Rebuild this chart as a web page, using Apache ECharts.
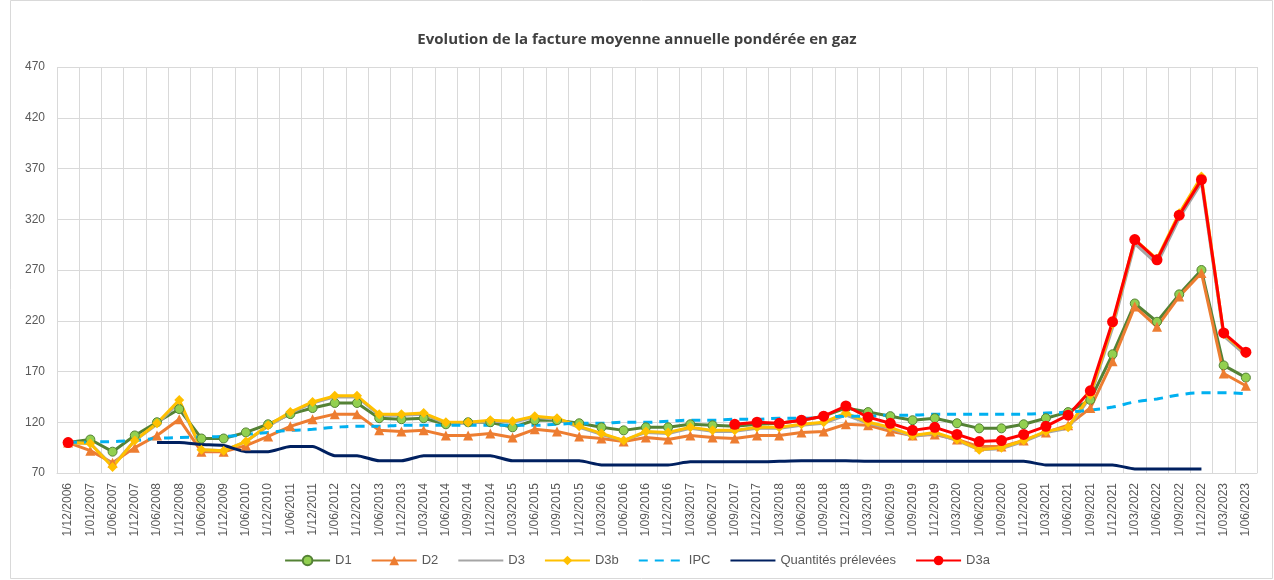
<!DOCTYPE html>
<html style="height: 100%">
<head>
<meta charset="utf-8">
</head>
<body style="height: 100%; margin: 0; background: #fff">
<div id="container" style="width: 1274px; height: 580px"></div>
<script type="text/javascript" src="https://cdn.jsdelivr.net/npm/echarts@6/dist/echarts.min.js"></script>
<script type="text/javascript">
// dates (x axis)
var dates = ['1/12/2006', '1/01/2007', '1/06/2007', '1/12/2007', '1/06/2008', '1/12/2008', '1/06/2009', '1/12/2009',
    '1/06/2010', '1/12/2010', '1/06/2011', '1/12/2011', '1/06/2012', '1/12/2012', '1/06/2013', '1/12/2013',
    '1/03/2014', '1/06/2014', '1/09/2014', '1/12/2014', '1/03/2015', '1/06/2015', '1/09/2015', '1/12/2015',
    '1/03/2016', '1/06/2016', '1/09/2016', '1/12/2016', '1/03/2017', '1/06/2017', '1/09/2017', '1/12/2017',
    '1/03/2018', '1/06/2018', '1/09/2018', '1/12/2018', '1/03/2019', '1/06/2019', '1/09/2019', '1/12/2019',
    '1/03/2020', '1/06/2020', '1/09/2020', '1/12/2020', '1/03/2021', '1/06/2021', '1/09/2021', '1/12/2021',
    '1/03/2022', '1/06/2022', '1/09/2022', '1/12/2022', '1/03/2023', '1/06/2023'];

var d1 = [100, 103, 91, 107, 120, 133, 104, 104, 110, 118, 128, 134, 139, 139, 124, 123,
    124, 118, 120, 120, 115, 122, 122, 119, 115, 112, 115, 115, 118, 117, 116, 118,
    119, 122, 126, 134, 130, 126, 122, 124, 119, 114, 114, 118, 124, 130, 142, 187,
    237, 219, 246, 270, 176, 164];

var d2 = [100, 92, 80, 95, 107, 123, 91, 91, 97, 106, 116, 123, 128, 128, 112, 111,
    112, 107, 107, 109, 105, 113, 111, 106, 104, 101, 105, 103, 107, 105, 104, 107,
    107, 110, 111, 118, 117, 111, 107, 108, 103, 96, 96, 102, 110, 117, 134, 180,
    234, 214, 244, 267, 168, 156];

var d3 = [100, 99, 77, 102, 118, 140, 93, 92, 101, 116, 129, 139, 145, 145, 127, 127,
    128, 119, 119, 121, 120, 125, 123, 115, 108, 102, 110, 109, 114, 111, 111, 114,
    114, 117, 119, 127, 119, 114, 106, 109, 102, 93, 94, 101, 110, 114, 145, 213,
    296, 276, 321, 356, 205, 186];

var d3b = [100, 99, 76, 102, 119, 142, 93, 92, 101, 117, 130, 140, 146, 146, 128, 128,
    129, 120, 120, 122, 121, 126, 124, 116, 109, 102, 111, 110, 115, 112, 112, 115,
    115, 118, 120, 129, 120, 115, 107, 110, 103, 93, 95, 102, 111, 115, 147, 217,
    300, 281, 326, 362, 207, 188];

var ipc = [100, 100.5, 101, 102, 104, 105, 105.5, 106, 108, 110, 112, 113, 115, 116, 116, 117,
    117, 117, 117, 117, 117, 117, 118, 119, 119, 120, 120, 121, 122, 122, 123, 123,
    124, 124, 125, 126, 126, 127, 127, 128, 128, 128, 128, 128, 129, 130, 132, 135,
    140, 143, 147, 149, 149, 148];

var quantites = [null, null, null, null, 100, 100, 98, 97, 91, 91, 96, 96, 87, 87, 82, 82,
    87, 87, 87, 87, 82, 82, 82, 82, 78, 78, 78, 78, 81, 81, 81, 81,
    81.5, 82, 82, 82, 81.5, 81.5, 81.5, 81.5, 81.5, 81.5, 81.5, 81.5, 78, 78, 78, 78,
    74, 74, 74, 74, null, null];

var d3a = [100, null, null, null, null, null, null, null, null, null, null, null, null, null, null, null,
    null, null, null, null, null, null, null, null, null, null, null, null, null, null, 118, 120,
    119, 122, 126, 136, 125, 119, 112, 115, 108, 101, 102, 108, 116, 127, 151, 219,
    300, 280, 324, 359, 208, 189];

var dom = document.getElementById('container');
var myChart = echarts.init(dom);

var noMarker = {opacity: 0};

var option = {
    animation: false,
    backgroundColor: '#fff',
    title: {
        text: 'Evolution de la facture moyenne annuelle pondérée en gaz',
        left: 'center',
        top: 27,
        textStyle: {fontFamily: 'Open Sans', fontSize: 15, fontWeight: 'bold', color: '#404040'}
    },
    graphic: [{
        type: 'rect',
        shape: {x: 10.5, y: 0.5, width: 1262, height: 578},
        style: {fill: 'none', stroke: '#d9d9d9', lineWidth: 1},
        silent: true
    }],
    legend: {
        bottom: 8,
        left: 'center',
        itemWidth: 45,
        itemHeight: 12,
        itemGap: 19,
        textStyle: {fontFamily: 'Liberation Sans', fontSize: 13, color: '#595959'},
        data: [
            {name: 'D1'},
            {name: 'D2'},
            {name: 'D3', itemStyle: noMarker},
            {name: 'D3b'},
            {name: 'IPC', itemStyle: noMarker},
            {name: 'Quantités prélevées', itemStyle: noMarker},
            {name: 'D3a'}
        ]
    },
    grid: {left: 57, right: 17, top: 67, bottom: 107},
    xAxis: {
        type: 'category',
        data: dates,
        boundaryGap: true,
        axisLine: {lineStyle: {color: '#d9d9d9'}},
        axisTick: {show: false},
        splitLine: {show: true, interval: 0, lineStyle: {color: '#d9d9d9', width: 1}},
        axisLabel: {
            rotate: 90,
            interval: 0,
            margin: 10,
            fontFamily: 'Liberation Sans',
            fontSize: 12,
            color: '#595959'
        }
    },
    yAxis: {
        type: 'value',
        min: 70,
        max: 470,
        interval: 50,
        axisLine: {show: false},
        axisTick: {show: false},
        splitLine: {lineStyle: {color: '#d9d9d9', width: 1}},
        axisLabel: {margin: 12, fontFamily: 'Liberation Sans', fontSize: 12, color: '#595959'}
    },
    series: [
        {
            name: 'D1', type: 'line', data: d1,
            symbol: 'circle', symbolSize: 9,
            lineStyle: {color: '#548235', width: 3},
            itemStyle: {color: '#92d050', borderColor: '#548235', borderWidth: 1},
            color: '#548235'
        },
        {
            name: 'D2', type: 'line', data: d2,
            symbol: 'triangle', symbolSize: 10,
            lineStyle: {color: '#ed7d31', width: 3},
            itemStyle: {color: '#ed7d31'},
            color: '#ed7d31'
        },
        {
            name: 'D3', type: 'line', data: d3,
            symbol: 'none',
            lineStyle: {color: '#a5a5a5', width: 3},
            itemStyle: {color: '#a5a5a5'},
            color: '#a5a5a5'
        },
        {
            name: 'D3b', type: 'line', data: d3b,
            symbol: 'diamond', symbolSize: 10,
            lineStyle: {color: '#ffc000', width: 3},
            itemStyle: {color: '#ffc000'},
            color: '#ffc000'
        },
        {
            name: 'IPC', type: 'line', data: ipc,
            symbol: 'none', smooth: true,
            lineStyle: {color: '#00b0f0', width: 3, type: [9, 7]},
            itemStyle: {color: '#00b0f0'},
            color: '#00b0f0'
        },
        {
            name: 'Quantités prélevées', type: 'line', data: quantites,
            symbol: 'none', smooth: 0.2,
            lineStyle: {color: '#002060', width: 3},
            itemStyle: {color: '#002060'},
            color: '#002060'
        },
        {
            name: 'D3a', type: 'line', data: d3a,
            symbol: 'circle', symbolSize: 11,
            lineStyle: {color: '#ff0000', width: 3},
            itemStyle: {color: '#ff0000'},
            color: '#ff0000'
        }
    ]
};

if (option && typeof option === 'object') {
    myChart.setOption(option);
}
</script>
</body>
</html>
